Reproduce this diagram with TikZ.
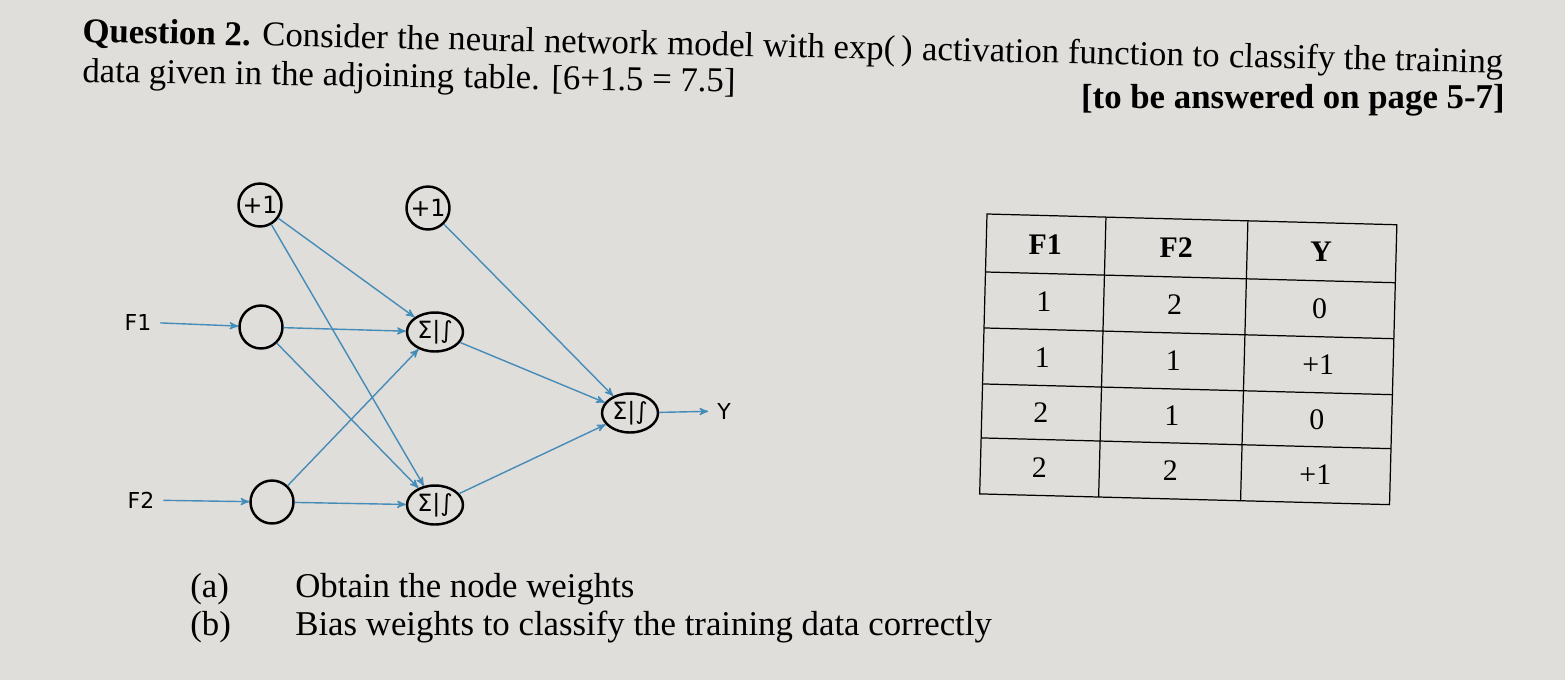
\documentclass[tikz,border=0pt]{standalone}
\usepackage{fontspec}
\setmainfont{Liberation Serif}
\newfontfamily\netfont{DejaVu Sans}
\usepackage{tikz}
\usetikzlibrary{arrows}
\usetikzlibrary{shapes.geometric}
\usetikzlibrary{positioning}
\definecolor{paper}{RGB}{224,222,218}
\definecolor{wire}{RGB}{70,140,185}
\tikzset{
    >=stealth',
    body/.style={anchor=base west, inner sep=0pt, font=\fontsize{19.8}{23}\selectfont},
    tilt/.style={body, rotate=-1.25},
    tiltb/.style={body, rotate=-0.9},
    cell/.style={inner sep=0pt, font=\fontsize{17}{19}\selectfont},
    netlabel/.style={inner sep=5pt, font=\netfont\fontsize{12.5}{14}\selectfont},
    biasnode/.style={draw=black, circle, line width=1.4pt, minimum size=0.86cm,
        inner sep=0pt, font=\netfont\fontsize{13.5}{14}\selectfont},
    neuron/.style={draw=black, circle, line width=1.4pt, minimum size=0.86cm, inner sep=0pt},
    sumnode/.style={draw=black, ellipse, line width=1.4pt, minimum width=1.12cm,
        minimum height=0.78cm, inner sep=0pt, font=\netfont\fontsize{13.5}{14}\selectfont},
    link/.style={->, draw=wire, line width=0.8pt},
}

\begin{document}
\begin{tikzpicture}[x=0.02cm, y=-0.02cm]
\fill[paper] (0,0) rectangle (1565,680);
\useasboundingbox (0,0) rectangle (1565,680);
% question text
\node[tilt] (q1) at (82,42) {\textbf{Question 2.} Consider};
\node[tilt] (q2) at (q1.base east) {\ the neural network};
\node[tilt] (q3) at (q2.base east) {\ model with exp(\,)};
\node[tilt] (q4) at (q3.base east) {\ activation function to};
\node[tilt] (q5) at (q4.base east) {\ classify the training};
\node[tiltb] (d1) at (82,82) {data given in};
\node[tiltb] (d2) at (d1.base east) {\ the adjoining};
\node[tiltb] (d3) at (d2.base east) {\ table. [6+1.5 = 7.5]};
\node[body, anchor=base east] (page) at (1505,108) {\textbf{[to be answered on page 5-7]}};
% network
\node[biasnode] (b1) at (260,205) {+1};
\node[biasnode] (b2) at (428,208) {+1};
\node[neuron] (x1) at (261,327) {};
\node[neuron] (x2) at (272,502) {};
\node[sumnode] (h1) at (435,332) {Σ|∫};
\node[sumnode] (h2) at (435,505) {Σ|∫};
\node[sumnode] (out) at (630,413) {Σ|∫};
\node[netlabel] (f1) at (138,322) {F1};
\node[netlabel] (f2) at (141,500) {F2};
\node[netlabel] (y) at (724,411) {Y};
\draw[link] (f1) -- (x1);
\draw[link] (f2) -- (x2);
\draw[link] (b1) -- (h1);
\draw[link] (b1) -- (h2);
\draw[link] (x1) -- (h1);
\draw[link] (x1) -- (h2);
\draw[link] (x2) -- (h1);
\draw[link] (x2) -- (h2);
\draw[link] (b2) -- (out);
\draw[link] (h1) -- (out);
\draw[link] (h2) -- (out);
\draw[link] (out) -- (y);
% data table
\begin{scope}[rotate around={-1.5:(987,214)}]
\draw[line width=0.7pt] (987,214) rectangle (1397,494);
\draw[line width=0.7pt] (987,272) -- (1397,272) (987,328) -- (1397,328)
    (987,384) -- (1397,384) (987,438) -- (1397,438)
    (1106,214) -- (1106,494) (1248,214) -- (1248,494);
\node[cell] (hf1) at (1046,243) {\textbf{F1}};
\node[cell] (hf2) at (1177,243) {\textbf{F2}};
\node[cell] (hy) at (1322,243) {\textbf{Y}};
\node[cell] at (1046,300) {1};
\node[cell] at (1177,300) {2};
\node[cell] at (1322,300) {0};
\node[cell] at (1046,356) {1};
\node[cell] at (1177,356) {1};
\node[cell] at (1322,356) {+1};
\node[cell] at (1046,411) {2};
\node[cell] at (1177,411) {1};
\node[cell] at (1322,411) {0};
\node[cell] at (1046,466) {2};
\node[cell] at (1177,466) {2};
\node[cell] at (1322,466) {+1};
\end{scope}
% parts
\node[body] (pa) at (190,597) {(a)};
\node[body] (ta) at (295,597) {Obtain the node weights};
\node[body] (pb) at (190,635) {(b)};
\node[body] (tb) at (295,635) {Bias weights to classify the training data correctly};
\end{tikzpicture}
\end{document}
